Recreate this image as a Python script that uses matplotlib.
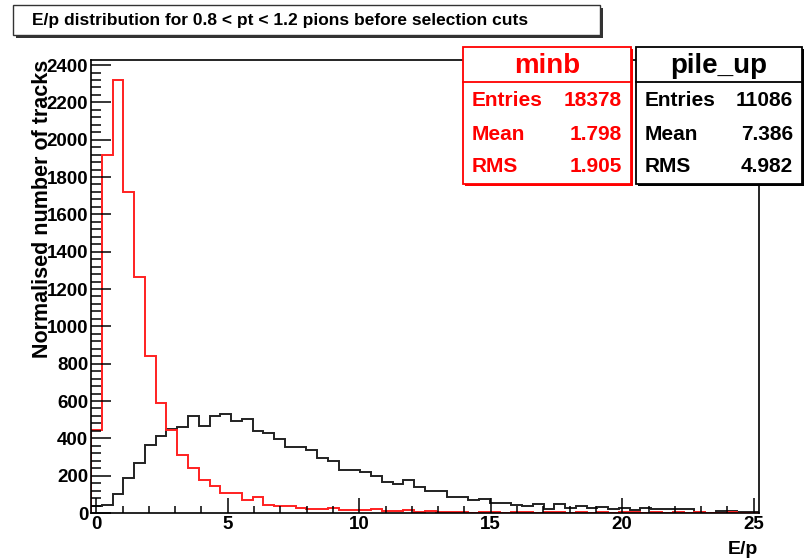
import numpy as np
import matplotlib
matplotlib.use("Agg")
import matplotlib.pyplot as plt
from matplotlib.patches import Rectangle
from matplotlib.ticker import MultipleLocator

# histogram binning (62 bins)
N_BINS = 62
X_LOW, X_HIGH = -0.2, 25.2

# minb (red), normalised counts per bin
minb_counts = [443, 1918, 2318, 1718, 1266, 839, 589, 443, 312, 239,
               179, 146, 109, 109, 70, 84, 43, 36, 36, 29,
               20, 20, 25, 16, 14, 14, 20, 11, 11, 14,
               7, 11, 5, 5, 4, 2, 4, 3, 1, 4,
               3, 1, 4, 3, 1, 3, 0, 3, 1, 3,
               3, 0, 3, 0, 3, 0, 3, 1, 0, 3,
               0, 0]

# pile_up (black)
pileup_counts = [40, 42, 100, 189, 269, 365, 412, 449, 460, 520,
                 464, 518, 530, 495, 504, 441, 430, 398, 354, 352,
                 336, 293, 277, 232, 230, 221, 196, 164, 157, 175,
                 137, 120, 120, 84, 84, 70, 77, 55, 52, 43,
                 39, 46, 21, 46, 29, 37, 29, 34, 21, 25,
                 18, 29, 20, 20, 20, 20, 7, 1, 12, 12,
                 4, 4]

stat_labels = ["Entries", "Mean", "RMS"]
minb_stats = ["18378", "1.798", "1.905"]
pileup_stats = ["11086", "7.386", "4.982"]

TITLE = "E/p distribution for 0.8 < pt < 1.2 pions before selection cuts"

W, H = 809, 560
plt.rcParams["font.family"] = ["Liberation Sans", "DejaVu Sans"]
plt.rcParams["font.weight"] = "bold"


def fx(x):
    return x / W


def fy(y):
    return 1 - y / H


def boxed(fig, x0, y0, x1, y1, edge, shadow=2, lw=1.3):
    # ROOT style box with a drop shadow
    fig.patches.append(Rectangle((fx(x0 + shadow), fy(y1 + shadow)),
                                 fx(x1 - x0), (y1 - y0) / H,
                                 transform=fig.transFigure, facecolor=edge,
                                 edgecolor="none", zorder=5))
    fig.patches.append(Rectangle((fx(x0), fy(y1)), fx(x1 - x0), (y1 - y0) / H,
                                 transform=fig.transFigure, facecolor="white",
                                 edgecolor=edge, linewidth=lw, zorder=6))


def stat_box(fig, x0, x1, name, values, color):
    y0, y1 = 47, 184
    boxed(fig, x0, y0, x1, y1, color)
    fig.lines.append(plt.Line2D([fx(x0), fx(x1)], [fy(82), fy(82)],
                                transform=fig.transFigure, color=color,
                                linewidth=1.3, zorder=7))
    fig.text(fx((x0 + x1) / 2), fy(66), name, ha="center", va="center",
             fontsize=20, color=color, zorder=8)
    for lab, val, yy in zip(stat_labels, values, [101, 134, 167]):
        fig.text(fx(x0 + 9), fy(yy), lab, ha="left", va="center",
                 fontsize=15, color=color, zorder=8)
        fig.text(fx(x1 - 9), fy(yy), val, ha="right", va="center",
                 fontsize=15, color=color, zorder=8)


fig = plt.figure(figsize=(W / 100, H / 100), dpi=100)
ax = fig.add_axes([fx(91), fy(513), fx(759 - 91), (513 - 60) / H])

edges = np.linspace(X_LOW, X_HIGH, N_BINS + 1)
ax.stairs(pileup_counts, edges, color="#222222", linewidth=1.4, baseline=0)
ax.stairs(minb_counts, edges, color="#ff2020", linewidth=1.4, baseline=0)

ax.set_xlim(X_LOW, X_HIGH)
ax.set_ylim(0, 2427)

ax.xaxis.set_major_locator(MultipleLocator(5))
ax.xaxis.set_minor_locator(MultipleLocator(1))
ax.yaxis.set_major_locator(MultipleLocator(200))
ax.yaxis.set_minor_locator(MultipleLocator(40))
ax.tick_params(axis="x", which="major", direction="in", length=10.5,
               width=1.1, pad=2, labelsize=13.5)
ax.tick_params(axis="x", which="minor", direction="in", length=5.2, width=1.1)
ax.tick_params(axis="y", which="major", direction="in", length=14.5,
               width=1.1, pad=2, labelsize=13.5)
ax.tick_params(axis="y", which="minor", direction="in", length=7.2, width=1.1)
for sp in ax.spines.values():
    sp.set_linewidth(1.2)

# axis titles (ROOT puts them at the end of the axis, over the labels)
fig.text(fx(43), fy(60), "Normalised number of tracks", rotation=90,
         ha="center", va="top", fontsize=15.5, zorder=9)
fig.text(fx(758), fy(541), "E/p", ha="right", va="top", fontsize=14)

# title box
boxed(fig, 13, 5, 600, 35, "#333333", shadow=3, lw=1.0)
fig.text(fx(280), fy(20), TITLE, ha="center", va="center", fontsize=12.5,
         zorder=8)

stat_box(fig, 463, 631, "minb", minb_stats, "#ff0000")
stat_box(fig, 636, 802, "pile_up", pileup_stats, "#000000")

fig.savefig("out.png", dpi=100)
